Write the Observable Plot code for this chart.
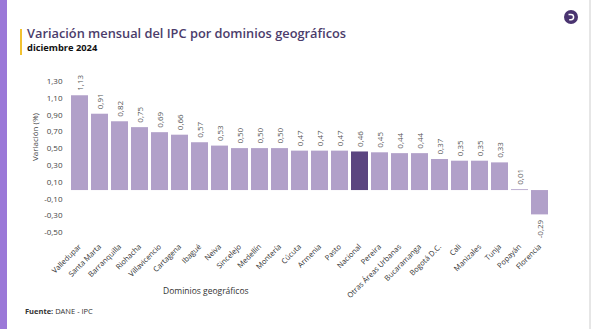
<!DOCTYPE html>
<html><head><meta charset="utf-8">
<script src="https://cdn.jsdelivr.net/npm/d3@7"></script>
<script src="https://cdn.jsdelivr.net/npm/@observablehq/plot@0.6"></script>
<style>
body{margin:0;background:#fff;font-family:"Open Sans",sans-serif;}
#wrap{position:relative;width:591px;height:329px;overflow:hidden;background:#fff;}
#stripe{position:absolute;left:0;top:0;width:7px;height:329px;background:#9b78d8;}
#rborder{position:absolute;left:589px;top:0;width:2px;height:329px;background:#e6e6e6;}
#ybar{position:absolute;left:20px;top:29px;width:2px;height:26px;background:#f2c230;}
#title{position:absolute;left:27px;top:26px;font-size:12.8px;line-height:14px;font-weight:600;color:#4b3c6b;white-space:nowrap;}
#sub{position:absolute;left:27px;top:42px;font-size:9.3px;line-height:11px;font-weight:700;color:#111;white-space:nowrap;}
#logo{position:absolute;left:564px;top:10px;width:14px;height:14px;}
#chart{position:absolute;left:0;top:60px;}
#xlab{position:absolute;left:163px;top:285px;font-size:8.5px;color:#333;white-space:nowrap;}
#src{position:absolute;left:25px;top:306px;font-size:7.5px;color:#333;white-space:nowrap;}
</style></head>
<body>
<div id="wrap">
<div id="stripe"></div><div id="rborder"></div><div id="ybar"></div>
<div id="title">Variación mensual del IPC por dominios geográficos</div>
<div id="sub">diciembre 2024</div>
<svg id="logo" viewBox="0 0 14 14"><circle cx="7" cy="7" r="7" fill="#4a3470"/><path d="M4.5 4.5 H7 A2.6 2.6 0 0 1 7 9.7 H5.2" fill="none" stroke="#fff" stroke-width="1.5"/></svg>
<div id="chart"></div>
<div id="xlab">Dominios geográficos</div>
<div id="src"><b>Fuente:</b> DANE - IPC</div>
</div>
<script>
const categories = ["Valledupar","Santa Marta","Barranquilla","Riohacha","Villavicencio","Cartagena","Ibagué","Neiva","Sincelejo","Medellín","Montería","Cúcuta","Armenia","Pasto","Nacional","Pereira","Otras Áreas Urbanas","Bucaramanga","Bogotá D.C.","Cali","Manizales","Tunja","Popayán","Florencia"];
const values = [1.13,0.91,0.82,0.75,0.69,0.66,0.57,0.53,0.50,0.50,0.50,0.47,0.47,0.47,0.46,0.45,0.44,0.44,0.37,0.35,0.35,0.33,0.01,-0.29];
const yTicks = [1.30,1.10,0.90,0.70,0.50,0.30,0.10,-0.10,-0.30,-0.50];
const highlight = "Nacional";

const data = categories.map((c,i)=>({cat:c, v:values[i]}));
const fmt = v => v.toFixed(2).replace(".", ",");

const chart = Plot.plot({
  width: 591, height: 245,
  marginLeft: 66, marginRight: 38, marginTop: 21, marginBottom: 73,
  style: {fontFamily: "'Open Sans', sans-serif", fontSize: "8px", color: "#444", background: "transparent"},
  x: {domain: categories, padding: 0.15, label: null},
  y: {domain: [-0.5, 1.3], label: null},
  marks: [
    Plot.barY(data, {x: "cat", y: "v", fill: d => d.cat === highlight ? "#5b4580" : "#b1a0c9"}),
    Plot.text(data.filter(d => d.v >= 0), {x: "cat", y: "v", text: d => fmt(d.v), rotate: -90, textAnchor: "start", dy: -5, fill: "#555", fontSize: 8}),
    Plot.text(data.filter(d => d.v < 0), {x: "cat", y: "v", text: d => fmt(d.v), rotate: -90, textAnchor: "end", dy: 5, fill: "#555", fontSize: 8}),
    Plot.axisY({ticks: yTicks, tickFormat: fmt, tickSize: 0, tickPadding: 4, label: null, fill: "#444"}),
    Plot.axisX({tickSize: 0, tickPadding: 13, tickRotate: -45, label: null, fill: "#333", fontSize: 7.5}),
    Plot.text(["Variación (%)"], {frameAnchor: "left", rotate: -90, dx: -31, dy: 4, fill: "#444", fontSize: 8})
  ]
});
document.getElementById("chart").appendChild(chart);
</script>
</body></html>
